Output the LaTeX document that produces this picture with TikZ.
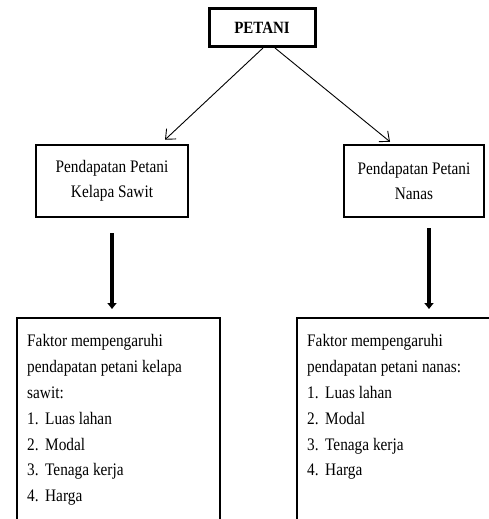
\documentclass[tikz,border=0pt]{standalone}
\usepackage{fontspec}
\setmainfont[FakeStretch=0.87]{Liberation Serif}
\usetikzlibrary{arrows.meta,calc,positioning}

\begin{document}
\begin{tikzpicture}[x=1pt,y=-1pt]
\tikzset{topbox/.style={draw,line width=3pt,font=\bfseries\fontsize{17.2}{18}\selectfont,minimum width=106,minimum height=38,inner sep=0},
incomebox/.style={draw,line width=2.5pt,align=center,font=\fontsize{17.6}{25.2}\selectfont,minimum height=72,inner sep=0},
factorbox/.style={draw,line width=2pt,minimum height=240,anchor=north west,inner sep=0},
factortext/.style={anchor=north west,align=left,inner sep=0,font=\fontsize{17.6}{25.9}\selectfont},
thinarrow/.style={-{Straight Barb[length=8pt,width=14pt]},line width=0.9pt},
thickarrow/.style={-{Triangle[length=6pt,width=9pt]},line width=3.5pt}}
\newcommand{\itemno}[1]{\makebox[18pt][l]{#1}}

\useasboundingbox (0,0) rectangle (489,519);
\clip (0,0) rectangle (489,519);

\node (petani) [topbox] at (262,27.5) {PETANI};
\node (sawit) [incomebox,minimum width=152] at (112,181) {Pendapatan Petani\\Kelapa Sawit};
\node (nanas) [incomebox,minimum width=140] at (414,181) {Pendapatan Petani\\Nanas};
\node (fsawit) [factorbox,minimum width=203] at (16,317) {};
\node (fnanas) [factorbox,minimum width=210] at (296,317) {};

\node (tsawit) [factortext] at (27,334) {Faktor mempengaruhi\\pendapatan petani kelapa\\sawit:\\
\itemno{1.}Luas lahan\\\itemno{2.}Modal\\\itemno{3.}Tenaga kerja\\\itemno{4.}Harga};
\node (tnanas) [factortext] at (307,334) {Faktor mempengaruhi\\pendapatan petani nanas:\\
\itemno{1.}Luas lahan\\\itemno{2.}Modal\\\itemno{3.}Tenaga kerja\\\itemno{4.}Harga};

\coordinate (sawitdrop) at (sawit.south);
\coordinate (nanasdrop) at ([xshift=15pt]nanas.south);

%% Edges
\draw[thinarrow] ([xshift=1pt]petani.south) -- ([xshift=53pt,yshift=4pt]sawit.north);
\draw[thinarrow] ([xshift=13pt]petani.south) -- ([xshift=-24pt,yshift=2pt]nanas.north);
\draw[thickarrow,shorten <=15pt,shorten >=8pt] (sawitdrop) -- (sawitdrop |- fsawit.north);
\draw[thickarrow,shorten <=10pt,shorten >=8pt] (nanasdrop) -- (nanasdrop |- fnanas.north);

\end{tikzpicture}
\end{document}
